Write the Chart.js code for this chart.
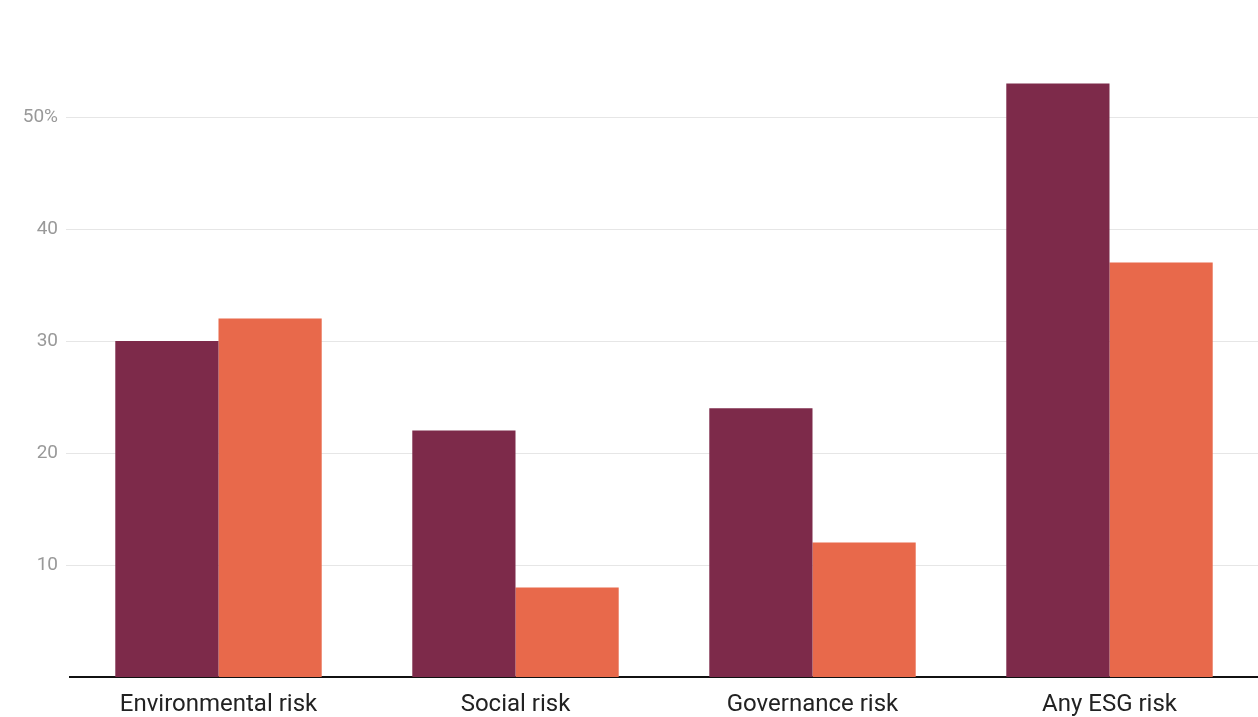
<!DOCTYPE html>
<html>
<head>
<meta charset="utf-8">
<script src="https://cdn.jsdelivr.net/npm/chart.js@4/dist/chart.umd.min.js"></script>
<style>
html,body{margin:0;padding:0;background:#fff;}
#wrap{width:1258px;height:717px;position:relative;}
</style>
</head>
<body>
<div id="wrap"><canvas id="c" width="1258" height="717"></canvas></div>
<script>
const categories = ["Environmental risk", "Social risk", "Governance risk", "Any ESG risk"];
const seriesA = [30, 22, 24, 53];
const seriesB = [32, 8, 12, 37];
const seriesNames = ["Series A", "Series B"];
const tickValues = [10, 20, 30, 40, 50];

new Chart(document.getElementById('c'), {
  type: 'bar',
  data: {
    labels: categories,
    datasets: [
      {label: seriesNames[0], data: seriesA, backgroundColor: '#7d2a4a', borderWidth: 0},
      {label: seriesNames[1], data: seriesB, backgroundColor: '#e8694b', borderWidth: 0}
    ]
  },
  options: {
    responsive: false,
    animation: false,
    layout: {padding: {top: 61, right: 0, bottom: 0, left: 0}},
    plugins: {legend: {display: false}, tooltip: {enabled: false}},
    datasets: {bar: {barPercentage: 1, categoryPercentage: 0.695}},
    scales: {
      x: {
        grid: {display: false, drawTicks: false},
        border: {display: true, color: '#111', width: 2},
        afterFit: (a) => { a.height = 40; },
        ticks: {color: '#222', padding: 14, font: {family: 'Roboto', size: 24}}
      },
      y: {
        min: 0, max: 55,
        afterFit: (a) => { a.width = 70; },
        afterBuildTicks: (a) => { a.ticks = tickValues.map(v => ({value: v})); },
        border: {display: false},
        grid: {color: '#e6e6e6', lineWidth: 1, tickLength: 4},
        ticks: {
          color: '#999', padding: 8, font: {family: 'Roboto', size: 19},
          callback: (v) => v === 50 ? v + '%' : String(v)
        }
      }
    }
  }
});
</script>
</body>
</html>
